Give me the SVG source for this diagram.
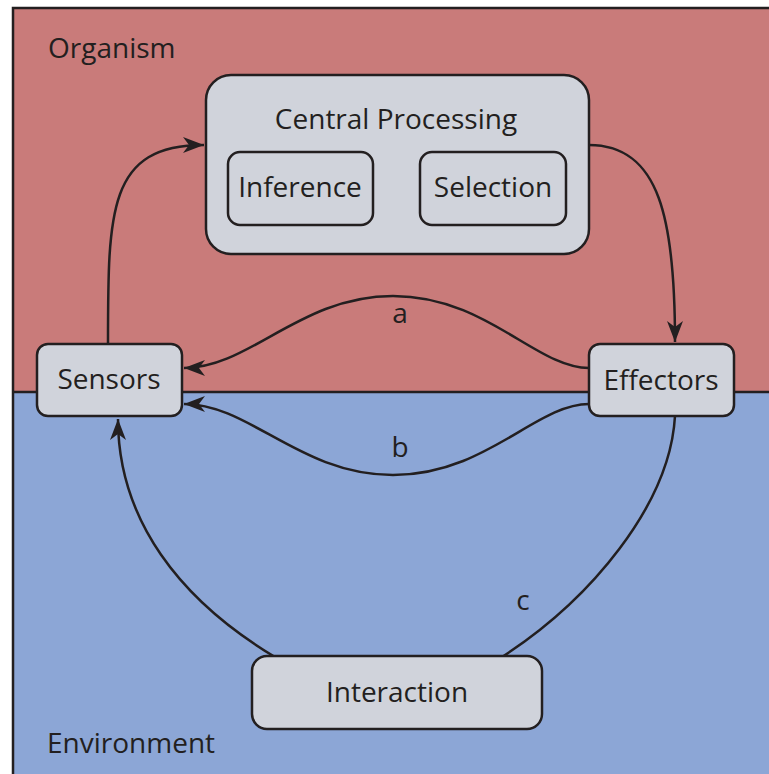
<svg xmlns="http://www.w3.org/2000/svg" width="769" height="774" viewBox="0 0 769 774">
<defs>
<style>
text{font-family:"Open Sans","Noto Sans","Liberation Sans",sans-serif;font-size:28px;fill:#231F20;}
.c{text-anchor:middle;}
.box{fill:#D0D3DB;stroke:#231F20;stroke-width:2.5;}
.conn{fill:none;stroke:#231F20;stroke-width:2.5;}
</style>
<marker id="arr" markerUnits="userSpaceOnUse" viewBox="-22 -10 24 20" refX="0" refY="0" markerWidth="24" markerHeight="20" orient="auto">
<path d="M0,0 L-21,-8 L-15,0 L-21,8 Z" fill="#231F20"/>
</marker>
</defs>
<g id="background">
<rect x="13" y="8" width="770" height="384" fill="#C97B7A"/>
<rect x="13" y="392" width="770" height="390" fill="#8CA6D6"/>
<path d="M13,782 L13,8 L775,8" fill="none" stroke="#231F20" stroke-width="2.5"/>
<line x1="13" y1="392" x2="775" y2="392" stroke="#231F20" stroke-width="2.5"/>
<text x="48" y="58">Organism</text>
<text x="47" y="753">Environment</text>
</g>
<g id="connectors">
<path class="conn" d="M108,344 C108,210 108,145 204,145" marker-end="url(#arr)"/>
<path class="conn" d="M589,145 C660,145 675,220 675,342" marker-end="url(#arr)"/>
<path class="conn" d="M589,368 C536,368 486,296 393,296 C300,296 250,368 184,368" marker-end="url(#arr)"/>
<path class="conn" d="M589,404 C536,404 486,475 393,475 C300,475 250,404 184,404" marker-end="url(#arr)"/>
<path class="conn" d="M275,657 C180,600 118,520 118,419" marker-end="url(#arr)"/>
<path class="conn" d="M675,416 C670,505 590,600 502,657"/>
<text class="c" x="400" y="323">a</text>
<text class="c" x="400" y="457">b</text>
<text class="c" x="523" y="610">c</text>
</g>
<g id="central-processing">
<rect class="box" x="206" y="75" width="383" height="179" rx="25"/>
<text class="c" x="396" y="129">Central Processing</text>
</g>
<g id="inference">
<rect class="box" x="228" y="152" width="145" height="73" rx="12"/>
<text class="c" x="300" y="197">Inference</text>
</g>
<g id="selection">
<rect class="box" x="420" y="152" width="146" height="73" rx="12"/>
<text class="c" x="493" y="197">Selection</text>
</g>
<g id="sensors">
<rect class="box" x="37" y="344" width="145" height="72" rx="11"/>
<text class="c" x="109" y="389">Sensors</text>
</g>
<g id="effectors">
<rect class="box" x="589" y="344" width="145" height="72" rx="11"/>
<text class="c" x="661" y="390">Effectors</text>
</g>
<g id="interaction">
<rect class="box" x="252" y="656" width="290" height="73" rx="15"/>
<text class="c" x="397" y="702">Interaction</text>
</g>
</svg>
